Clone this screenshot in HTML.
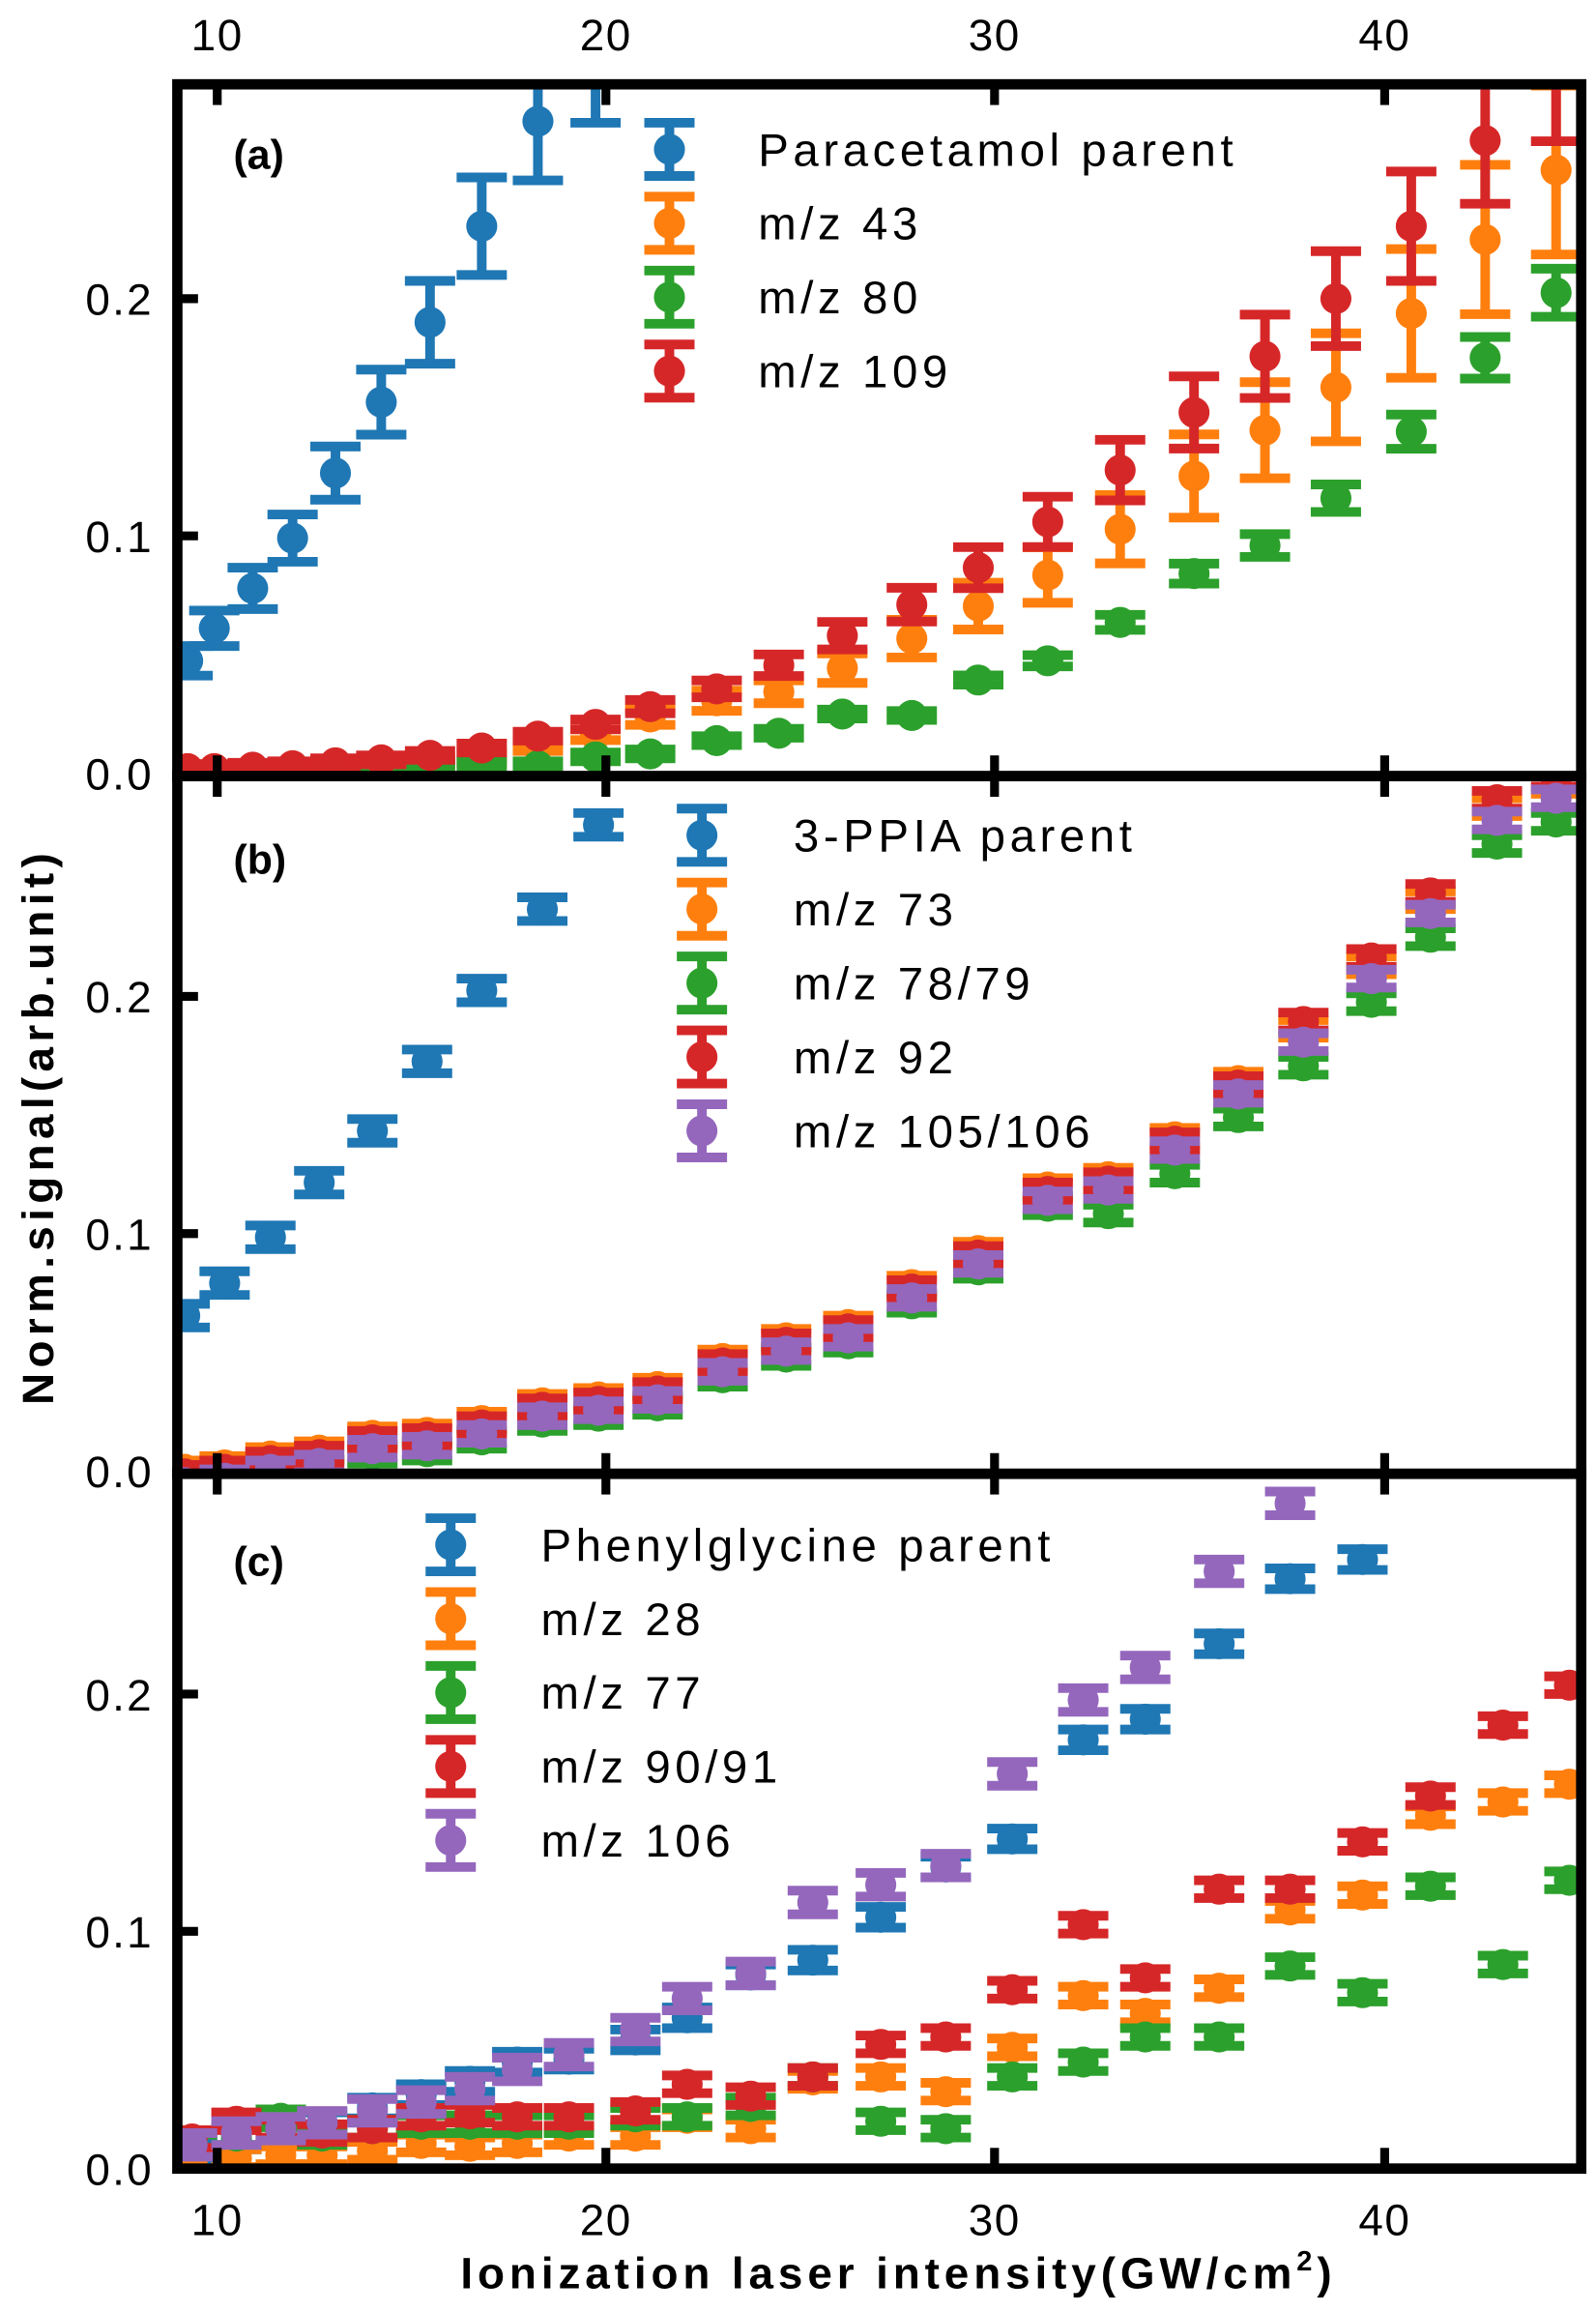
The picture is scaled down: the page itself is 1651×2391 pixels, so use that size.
<!DOCTYPE html>
<html><head><meta charset="utf-8"><style>html,body{margin:0;padding:0;background:#fff}svg{display:block}</style></head>
<body>
<svg id="s" xmlns="http://www.w3.org/2000/svg" width="1651" height="2391" viewBox="0 0 1080 1564" font-family="Liberation Sans, Arial, sans-serif">
<defs>
<clipPath id="ca"><rect x="120" y="57" width="950" height="468"/></clipPath>
<clipPath id="cb"><rect x="120" y="525" width="950" height="472"/></clipPath>
<clipPath id="cc"><rect x="120" y="997" width="950" height="470"/></clipPath>
</defs>
<g id="data"></g>
<g id="axes"></g>
</svg>
<script>
const C={b:'#1f77b4',o:'#ff7f0e',g:'#2ca02c',r:'#d62728',p:'#9467bd'};
let out='';
function pt(x,y,e,c){
 let s='';
 s+=`<line x1="${x}" y1="${y-e}" x2="${x}" y2="${y+e}" stroke="${c}" stroke-width="6.5"/>`;
 s+=`<line x1="${x-17}" y1="${y-e}" x2="${x+17}" y2="${y-e}" stroke="${c}" stroke-width="6.5"/>`;
 s+=`<line x1="${x-17}" y1="${y+e}" x2="${x+17}" y2="${y+e}" stroke="${c}" stroke-width="6.5"/>`;
 s+=`<circle cx="${x}" cy="${y}" r="10.5" fill="${c}"/>`;
 return s;
}
function series(pts,c,def){return pts.map(p=>pt(p[0],p[1],p[2]!==undefined?p[2]:def,c)).join('');}
let a='';
a+=series([[127,447,10],[145,425,12],[171,398,14],[198,364,16],[227,320,18],[258,272,22],[291,218,28],[326,153,33],[364,82,40],[403,45,38]],C.b);
const ox=[127,145,171,198,227,258,291,326,364,403,440,485,527,570,617,662,709,758,808,856,904,955,1005,1053];
const oy=[520,520,520,519,518,517,515,512,505,497,485,474,468,452,432,410,389,358,322,291,262,212,162,115];
a+=series(ox.map((x,i)=>[x,oy[i],Math.max(3,(523-oy[i])*0.14)]),C.o);
const gx=[227,258,291,326,364,403,440,485,527,570,617,662,709,758,808,856,904,955,1005,1053];
const gy=[521,520,519,518,518,512,510,501,496,483,484,460,447,421,388,369,337,292,242,198];
a+=series(gx.map((x,i)=>[x,gy[i],Math.max(3,(523-gy[i])*0.05)]),C.g);
const rx=[127,145,171,198,227,258,291,326,364,403,440,485,527,570,617,662,709,758,808,856,904,955,1005,1053];
const ry=[520,520,519,518,516,514,511,506,498,490,478,466,450,430,409,384,353,318,279,241,202,153,95,48];
a+=series(rx.map((x,i)=>[x,ry[i],Math.max(3,(523-ry[i])*0.1)]),C.r);
out+=`<g clip-path="url(#ca)">${a}</g>`;
let b='';
b+=series([[125,890],[152,868],[183,837],[216,800],[252,765],[289,718],[326,670],[367,615],[405,558]],C.b,8);
const bx=[125,152,183,216,252,289,326,367,405,445,489,532,574,617,662,709,750,795,838,882,928,968,1013,1053];
const by=[993,990,984,980,970,968,960,948,944,937,918,904,895,868,845,802,795,768,730,695,652,608,545,530];
b+=series(bx.map((x,i)=>[x,by[i]+1]),C.o,6);
b+=series(bx.map((x,i)=>[x,by[i]+14+(i>15?12:0)]),C.g,6);
b+=series(bx.map((x,i)=>[x,by[i]+4-(i>18?8:0)]),C.r,6);
b+=series(bx.map((x,i)=>[x,by[i]+10]),C.p,6);
out+=`<g clip-path="url(#cb)">${b}</g>`;
let c='';
const cx=[130,160,190,218,252,285,318,350,385,430,465,508,550,596,640,685,733,775,825,873,922,968,1017,1062];
const oc=[1462,1460,1458,1458,1455,1450,1452,1450,1445,1445,1433,1440,1407,1405,1415,1385,1350,1362,1345,1292,1282,1228,1219,1207];
const gc=[1450,1445,1433,1445,1440,1437,1437,1437,1437,1432,1432,1425,1405,1435,1440,1405,1395,1378,1378,1330,1348,1276,1329,1272];
const rc=[1447,1435,1440,1443,1440,1432,1430,1432,1432,1428,1410,1418,1405,1383,1378,1346,1302,1338,1278,1278,1246,1215,1167,1140];
const pc=[1451,1443,1440,1436,1428,1422,1413,1400,1390,1373,1352,1335,1287,1275,1262,1200,1150,1128,1063,1017];
const bc=[1455,1447,1442,1436,1426,1417,1408,1395,1393,1380,1365,1336,1326,1297,1263,1244,1177,1163,1112,1068,1055];
c+=series(bc.map((y,i)=>[cx[i],y]),C.b,7);
c+=series(oc.map((y,i)=>[cx[i],y]),C.o,6);
c+=series(gc.map((y,i)=>[cx[i],y]),C.g,6);
c+=series(rc.map((y,i)=>[cx[i],y]),C.r,6);
c+=series(pc.map((y,i)=>[cx[i],y]),C.p,8);
out+=`<g clip-path="url(#cc)">${c}</g>`;
function leg(x,tx,y0,items){let s='';items.forEach((it,i)=>{const y=y0+i*50;s+=pt(x,y,18,it[0]);s+=`<text x="${tx}" y="${y+11}" font-size="31" letter-spacing="3">${it[1]}</text>`;});return s;}
out+=leg(453,513,101,[[C.b,'Paracetamol parent'],[C.o,'m/z  43'],[C.g,'m/z  80'],[C.r,'m/z  109']]);
out+=leg(475,537,565,[[C.b,'3-PPIA parent'],[C.o,'m/z  73'],[C.g,'m/z  78/79'],[C.r,'m/z  92'],[C.p,'m/z  105/106']]);
out+=leg(305,366,1045,[[C.b,'Phenylglycine parent'],[C.o,'m/z  28'],[C.g,'m/z  77'],[C.r,'m/z  90/91'],[C.p,'m/z  106']]);
document.getElementById('data').innerHTML=out;
let ax='';
const panels=[[57,525,523],[525,997,995],[997,1467,1467]];
const xt=[147,410,673,937];
panels.forEach((p,k)=>{
 ax+=`<rect x="120" y="${p[0]}" width="950" height="${p[1]-p[0]}" fill="none" stroke="#000" stroke-width="7"/>`;
 xt.forEach(x=>{ax+=`<line x1="${x}" y1="${p[0]}" x2="${x}" y2="${p[0]+14}" stroke="#000" stroke-width="6"/>`;ax+=`<line x1="${x}" y1="${p[1]}" x2="${x}" y2="${p[1]-14}" stroke="#000" stroke-width="6"/>`;});
 [0,1,2].forEach(j=>{const y=p[2]-j*160.5;if(j>0){ax+=`<line x1="120" y1="${y}" x2="134" y2="${y}" stroke="#000" stroke-width="6"/>`;}
  ax+=`<text x="104" y="${y+11}" font-size="30" text-anchor="end" letter-spacing="1.5">${['0.0','0.1','0.2'][j]}</text>`;});
});
ax+=`<text x="158" y="114" font-size="28" font-weight="bold">(a)</text>`;
ax+=`<text x="158" y="591" font-size="28" font-weight="bold">(b)</text>`;
ax+=`<text x="158" y="1066" font-size="28" font-weight="bold">(c)</text>`;
['10','20','30','40'].forEach((t,i)=>{ax+=`<text x="${xt[i]}" y="34" font-size="30" text-anchor="middle" letter-spacing="1">${t}</text>`;ax+=`<text x="${xt[i]}" y="1512" font-size="30" text-anchor="middle" letter-spacing="1">${t}</text>`;});
ax+=`<text x="608" y="1548" font-size="30" font-weight="bold" text-anchor="middle" letter-spacing="3.2">Ionization laser intensity(GW/cm<tspan font-size="19" dy="-12">2</tspan><tspan dy="12">)</tspan></text>`;
ax+=`<text transform="translate(36,762) rotate(-90)" font-size="30" font-weight="bold" text-anchor="middle" letter-spacing="3.5">Norm.signal(arb.unit)</text>`;
document.getElementById('axes').innerHTML=ax;
</script>
</body></html>
